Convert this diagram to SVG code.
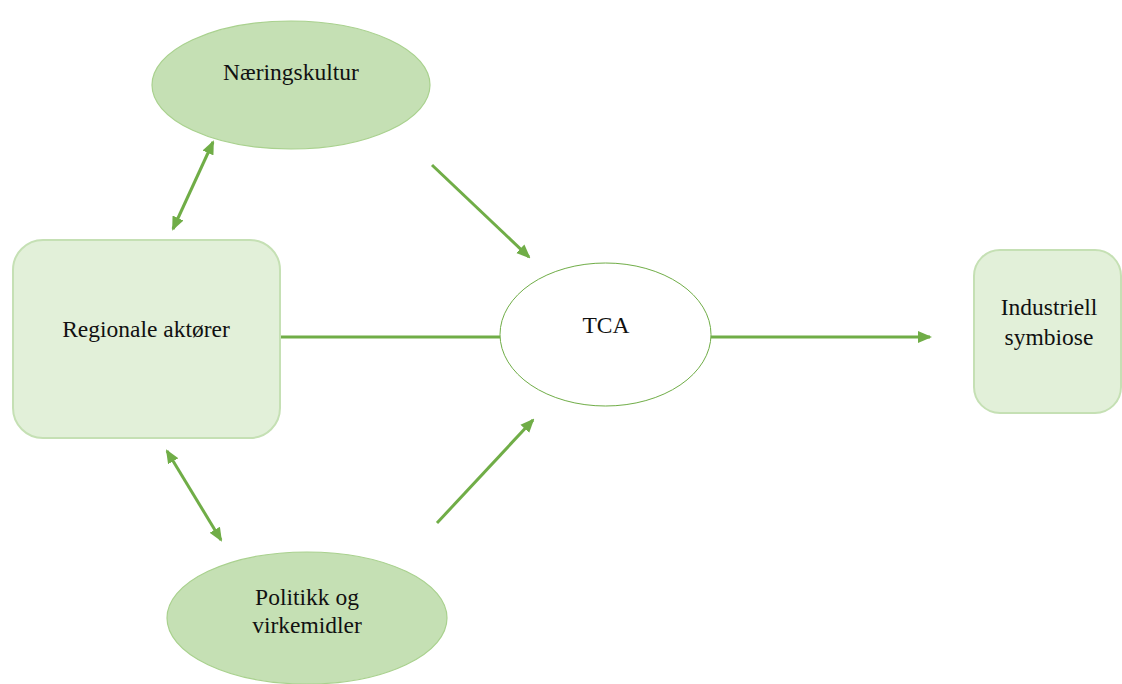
<svg xmlns="http://www.w3.org/2000/svg" width="1122" height="684" viewBox="0 0 1122 684">
  <style>
    .lbl { font-family: "Liberation Serif", "Times New Roman", serif; font-size: 23.5px; fill: #111; text-anchor: middle; }
    .oval { fill: #c5e0b4; stroke: #a9d18e; stroke-width: 1.2; }
    .box { fill: #e2f0d9; stroke: #c5e0b4; stroke-width: 2; }
    .conn { stroke: #70ad47; stroke-width: 3; fill: none; }
  </style>
  <defs>
    <marker id="ah" markerUnits="userSpaceOnUse" markerWidth="14" markerHeight="14" viewBox="0 0 14 14" refX="12" refY="7" orient="auto-start-reverse">
      <path d="M0,1 L14,7 L0,13 z" fill="#70ad47"/>
    </marker>
  </defs>
  <rect x="0" y="0" width="1122" height="684" fill="#ffffff"/>

  <g id="connectors">
    <line class="conn" x1="280" y1="337" x2="500" y2="337"/>
    <line class="conn" x1="711" y1="337" x2="930" y2="337" marker-end="url(#ah)"/>
    <line class="conn" x1="432" y1="165" x2="529" y2="257" marker-end="url(#ah)"/>
    <line class="conn" x1="437" y1="523" x2="533" y2="420" marker-end="url(#ah)"/>
    <line class="conn" x1="213" y1="142" x2="173" y2="229" marker-start="url(#ah)" marker-end="url(#ah)"/>
    <line class="conn" x1="167" y1="451" x2="221" y2="540" marker-start="url(#ah)" marker-end="url(#ah)"/>
  </g>

  <g id="naeringskultur">
    <ellipse class="oval" cx="291" cy="85" rx="139" ry="64"/>
    <text class="lbl" x="291" y="80">Næringskultur</text>
  </g>

  <g id="regionale-aktorer">
    <rect class="box" x="13" y="240" width="267" height="198" rx="30" ry="30"/>
    <text class="lbl" x="146" y="337">Regionale aktører</text>
  </g>

  <g id="politikk">
    <ellipse class="oval" cx="307" cy="618" rx="140" ry="66"/>
    <text class="lbl" x="307" y="605">Politikk og</text>
    <text class="lbl" x="307" y="633">virkemidler</text>
  </g>

  <g id="tca">
    <ellipse cx="605.5" cy="334.5" rx="105.5" ry="71.5" fill="#ffffff" stroke="#70ad47" stroke-width="1"/>
    <text class="lbl" x="606" y="333">TCA</text>
  </g>

  <g id="industriell-symbiose">
    <rect class="box" x="974" y="250" width="147" height="163" rx="26" ry="26"/>
    <text class="lbl" x="1049" y="315">Industriell</text>
    <text class="lbl" x="1049" y="345">symbiose</text>
  </g>
</svg>
